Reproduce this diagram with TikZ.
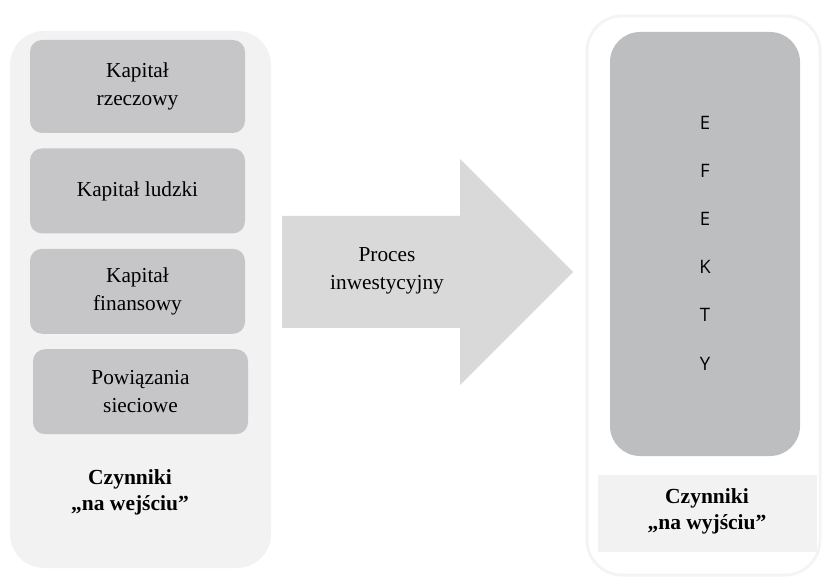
\documentclass[tikz,border=0pt]{standalone}
\usepackage{fontspec}
\setmainfont{Liberation Serif}
\newfontfamily\efektfont{Open Sans}
\usetikzlibrary{positioning}
\definecolor{panelgray}{HTML}{F2F2F2}
\definecolor{boxgray}{HTML}{C6C6C8}
\definecolor{efektgray}{HTML}{BDBEC0}
\definecolor{arrowgray}{HTML}{D9D9D9}
\definecolor{framegray}{HTML}{F4F4F4}

\begin{document}
\begin{tikzpicture}[x=1pt, y=-1pt,
    node distance=15pt,
    capbox/.style={fill=boxgray, rounded corners=12pt, minimum width=215pt, minimum height=85pt, align=center, inner sep=0pt, font=\fontsize{21.3}{28}\selectfont},
    factor/.style={align=center, inner sep=0pt, font=\fontsize{21.5}{26}\selectfont\bfseries},
    letter/.style={inner sep=0pt, font=\efektfont\fontsize{18.5}{22}\selectfont}
]
\useasboundingbox (0,0) rectangle (822,577);

% Left panel: inputs
\fill[panelgray, rounded corners=34pt] (10,31) rectangle (271,568);
\node[capbox, minimum height=93pt] (rzeczowy) at (137.5,86.5) {Kapitał\\rzeczowy};
\node[capbox, below=of rzeczowy] (ludzki) {Kapitał ludzki};
\node[capbox, below=of ludzki] (finansowy) {Kapitał\\finansowy};
\node[capbox, below=of finansowy, xshift=3pt] (sieciowe) {Powiązania\\sieciowe};
\node[factor] (wejscie) at (130,492) {Czynniki\\„na wejściu”};

% Arrow
\fill[arrowgray] (282,216) -- (460,216) -- (460,159) -- (573,272) -- (460,385) -- (460,328) -- (282,328) -- cycle;
\node[align=center, inner sep=0pt, font=\fontsize{21.3}{28}\selectfont] (proces) at (387,271) {Proces\\inwestycyjny};

% Right panel: outputs
\draw[framegray, line width=3pt, rounded corners=35pt] (587,16) rectangle (820,575);
\node[fill=efektgray, rounded corners=30pt, minimum width=190pt, minimum height=424pt] (efekty) at (705,244) {};
\foreach \ch [count=\i from 0] in {E,F,E,K,T,Y}
    \node[letter] (ltr\i) at (705,122.5+48.2*\i) {\ch};
\node[fill=panelgray, minimum width=219pt, minimum height=77pt] (wyjscie) at (707.5,513.5) {};
\node[factor] (wyjscietxt) at (707,511) {Czynniki\\„na wyjściu”};

\end{tikzpicture}
\end{document}
